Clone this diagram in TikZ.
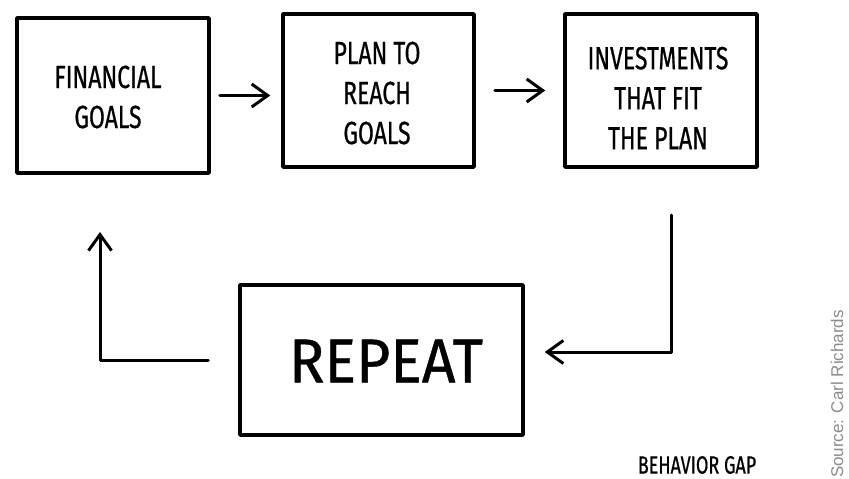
\documentclass[tikz,border=0pt]{standalone}
\usepackage{fontspec}
\setmainfont{Fira Sans}
\newfontfamily\hand[FakeStretch=0.72,FakeBold=0.6]{Fira Sans}
\newfontfamily\handwide[FakeStretch=0.95,FakeBold=0.6]{Fira Sans}
\newfontfamily\srcfont{Liberation Sans}
\usetikzlibrary{arrows.meta}
\definecolor{srcgray}{HTML}{8C8C8C}
\begin{document}
\begin{tikzpicture}[x=1pt,y=-1pt,
  sketchbox/.style={draw=black, line width=3.5pt, line join=round, inner sep=0pt},
  handtext/.style={align=center, inner sep=0pt, font=\hand\fontsize{32}{40}\selectfont},
  arr/.style={draw=black, line width=3pt, line cap=round, line join=round,
    -{Straight Barb[length=16pt,width=23pt]}}
]
\fill[white] (0,0) rectangle (849,479);
\useasboundingbox (0,0) rectangle (849,479);

\node[sketchbox, minimum width=192pt, minimum height=155pt] (b1) at (113,95.5) {};
\node[sketchbox, minimum width=191pt, minimum height=153pt] (b2) at (378.5,90.5) {};
\node[sketchbox, minimum width=192pt, minimum height=153pt] (b3) at (661,90.5) {};
\node[sketchbox, minimum width=283pt, minimum height=150pt] (rep) at (381.5,360) {};

\node[handtext] (t1) at (108,97) {FINANCIAL\\GOALS};
\node[handtext] (t2) at (377,93) {PLAN TO\\REACH\\GOALS};
\node[handtext] (t3) at (658,98) {INVESTMENTS\\THAT FIT\\THE PLAN};
\node[handtext, font=\handwide\fontsize{62}{66}\selectfont] (t4) at (386,361) {REPEAT};

\draw[arr, shorten <=9pt, shorten >=11pt] (b1.east) -- (b1.east -| b2.west);
\draw[arr, shorten <=19pt, shorten >=18pt] (b2.east) -- (b2.east -| b3.west);

\coordinate (r1) at (671,215);
\coordinate (r2) at (671,352);
\draw[arr, shorten >=20pt] (r1) -- (r2) -- (r2 -| rep.east);

\coordinate (l1) at (100,232);
\draw[arr, shorten <=30pt] (rep.west) -| (l1);

\node[font=\hand\fontsize{25}{28}\selectfont] (bg) at (697,465) {BEHAVIOR GAP};
\node[font=\srcfont\fontsize{17}{20}\selectfont, text=srcgray, rotate=90] (src) at (837,394) {Source: Carl Richards};
\end{tikzpicture}
\end{document}
